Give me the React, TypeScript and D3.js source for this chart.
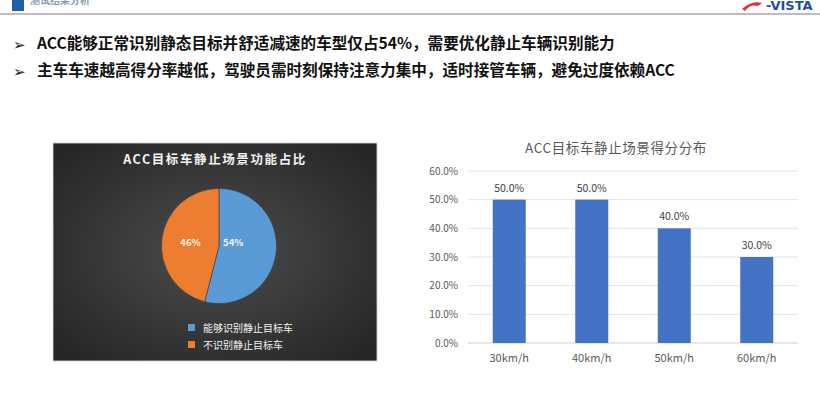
import * as d3 from "d3";

const bullets = [
  "ACC能够正常识别静态目标并舒适减速的车型仅占54%，需要优化静止车辆识别能力",
  "主车车速越高得分率越低，驾驶员需时刻保持注意力集中，适时接管车辆，避免过度依赖ACC",
];

const pieTitle = "ACC目标车静止场景功能占比";
const pieLabels = ["能够识别静止目标车", "不识别静止目标车"];
const pieValues = [54, 46];
const pieColors = ["#5B9BD5", "#ED7D31"];

const barTitle = "ACC目标车静止场景得分分布";
const speeds = ["30km/h", "40km/h", "50km/h", "60km/h"];
const scores = [0.5, 0.5, 0.4, 0.3];
const yTicks = [0, 0.1, 0.2, 0.3, 0.4, 0.5, 0.6];

const font = "'Noto Sans CJK SC', 'Noto Sans', sans-serif";

export default function App() {
  // pie
  const cx = 219;
  const cy = 246;
  const r = 57.5;
  const pie = d3.pie<number>().sort(null)(pieValues);
  const arc = d3.arc<d3.PieArcDatum<number>>().innerRadius(0).outerRadius(r);
  const labelRadius = [0.25, 0.5]; // excel-ish label placement per slice

  // bars
  const x = d3.scaleBand().domain(speeds).range([468, 798]).paddingInner(0.6).paddingOuter(0.3);
  const y = d3.scaleLinear().domain([0, 0.6]).range([343, 171]);
  const pct = d3.format(".1%");

  return (
    <svg
      width={820}
      height={400}
      style={{ position: "fixed", left: 0, top: 0, background: "#fff" }}
      fontFamily={font}
    >
      {/* header strip */}
      <rect x={12} y={0} width={12} height={11} fill="#1F5FA8" />
      <text x={30} y={4} fontSize={10} fill="#8a9bb5" fontWeight="bold">测试结果分析</text>
      <rect x={0} y={13} width={820} height={2} fill="#BDBDBD" />
      <text x={766} y={10} fontSize={13} fontWeight="bold" fill="#1F4E9C" fontFamily="'DejaVu Sans', sans-serif">-VISTA</text>
      <path d="M742,9 Q752,0 762,3 L758,6 Q750,4 745,11 Z" fill="#E03030" />

      {/* bullets */}
      {bullets.map((b, i) => (
        <g key={i}>
          <text x={13} y={50 + i * 27} fontSize={15} fontWeight="bold" fill="#222" fontFamily="'DejaVu Sans', sans-serif">➢</text>
          <text x={37} y={49 + i * 27} fontSize={15.6} fontWeight="bold" fill="#111">{b}</text>
        </g>
      ))}

      {/* pie panel */}
      <defs>
        <radialGradient id="bg" cx="50%" cy="50%" r="65%">
          <stop offset="0%" stopColor="#4d4d4d" />
          <stop offset="100%" stopColor="#262626" />
        </radialGradient>
      </defs>
      <rect x={53} y={143} width={324} height={218} fill="url(#bg)" stroke="#d9d9d9" strokeWidth={0.8} />
      <text x={215} y={164} textAnchor="middle" fill="#f2f2f2" fontSize={12.5} fontWeight="bold" letterSpacing={1.6}>{pieTitle}</text>
      <g transform={`translate(${cx},${cy})`}>
        {pie.map((d, i) => (
          <path key={i} d={arc(d) ?? ""} fill={pieColors[i]} stroke="#3a3a3a" strokeWidth={0.6} />
        ))}
        {pie.map((d, i) => {
          const lr = r * labelRadius[i];
          const [lx] = d3.arc<d3.PieArcDatum<number>>().innerRadius(lr).outerRadius(lr).centroid(d);
          return (
            <text key={i} x={lx} y={-0.5} textAnchor="middle" fill="#f2f2f2" fontSize={9.5} fontWeight="bold">
              {pieValues[i]}%
            </text>
          );
        })}
      </g>
      {pieLabels.map((l, i) => (
        <g key={i}>
          <rect x={188} y={324 + i * 17} width={7} height={7} fill={pieColors[i]} />
          <text x={203} y={331.5 + i * 17} fontSize={10} fill="#f2f2f2">{l}</text>
        </g>
      ))}

      {/* bar chart */}
      <text x={616} y={153} textAnchor="middle" fontSize={13.5} fill="#595959" letterSpacing={0.6}>{barTitle}</text>
      {yTicks.map((t) => (
        <g key={t}>
          <line x1={468} x2={798} y1={y(t)} y2={y(t)} stroke={t === 0 ? "#d0d0d0" : "#e3e3e3"} strokeWidth={1} />
          <text x={458} y={y(t) + 3.5} textAnchor="end" fontSize={10} fill="#595959">{pct(t)}</text>
        </g>
      ))}
      {speeds.map((s, i) => (
        <g key={s}>
          <rect x={x(s)} y={y(scores[i])} width={x.bandwidth()} height={y(0) - y(scores[i])} fill="#4472C4" />
          <text x={(x(s) ?? 0) + x.bandwidth() / 2} y={y(scores[i]) - 8} textAnchor="middle" fontSize={10.5} fill="#404040">
            {pct(scores[i])}
          </text>
          <text x={(x(s) ?? 0) + x.bandwidth() / 2} y={362} textAnchor="middle" fontSize={11} fill="#595959">{s}</text>
        </g>
      ))}
    </svg>
  );
}
